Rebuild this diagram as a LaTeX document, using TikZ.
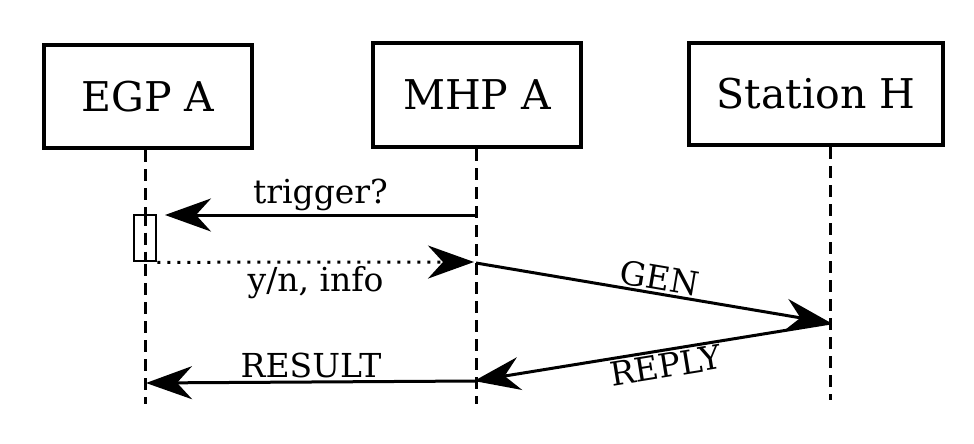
\documentclass[tikz,border=0pt]{standalone}
\usepackage{fontspec}
\setmainfont{DejaVu Serif}
\usetikzlibrary{arrows.meta}
\begin{document}
\begin{tikzpicture}[x=1pt,y=1pt,
  head/.style={draw,line width=4pt,inner sep=0pt,font=\fontsize{41}{45}\selectfont},
  life/.style={line width=3pt,dash pattern=on 12pt off 7pt},
  msg/.style={line width=3pt,-{Stealth[length=46pt,width=33pt,inset=15pt]}},
  lbl/.style={font=\fontsize{33}{36}\selectfont,inner sep=2pt},
  actbox/.style={draw,fill=white,line width=2.6pt,minimum width=22pt,minimum height=46pt,inner sep=0pt}]
\useasboundingbox (0,0) rectangle (974,-444);
% heads
\node[head,minimum width=208pt,minimum height=103pt] (egp) at (148,-96.5) {EGP A};
\node[head,minimum width=208pt,minimum height=104pt] (mhp) at (477,-95) {MHP A};
\node[head,minimum width=254pt,minimum height=102pt] (sta) at (816,-94) {Station H};
% lifeline ends
\coordinate (egpE) at (145,-404);
\coordinate (mhpE) at (476,-404);
\coordinate (staE) at (830,-400);
\draw[life] (egp.south -| egpE) -- (egpE);
\draw[life] (mhp.south -| mhpE) -- (mhpE);
\draw[life] (sta.south -| staE) -- (staE);
% activation
\node[actbox] (act) at (145,-238) {};
\draw[life] (act.north) -- (act.south);
% message points
\coordinate (m1) at (476,-215);
\coordinate (t1) at (165,-215);
\coordinate (m2) at (474,-262);
\coordinate (m3) at (476,-263);
\coordinate (s1) at (831,-323);
\coordinate (m4) at (474,-381);
\coordinate (e1) at (146,-383);
% messages
\draw[msg] (m1) -- node[lbl,above,yshift=1pt] {trigger?} (t1);
\draw[msg,dash pattern=on 3pt off 7pt] (act.south east) -- node[lbl,below,yshift=-1pt] {y/n, info} (m2);
\draw[msg] (m3) -- node[lbl,above,sloped,pos=0.51] {GEN} (s1);
\draw[msg] (s1) -- node[lbl,below,sloped,pos=0.47] {REPLY} (m4);
\draw[msg] (m4 -| mhpE) -- node[lbl,above,yshift=1pt] {RESULT} (e1);
\end{tikzpicture}
\end{document}
